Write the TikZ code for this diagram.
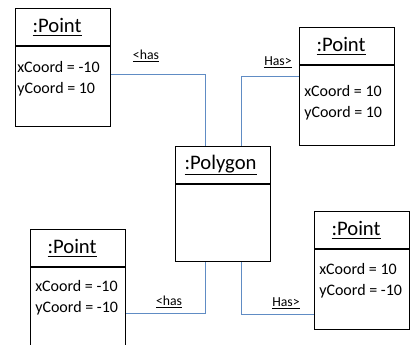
\documentclass[tikz,border=0pt]{standalone}
\usepackage{fontspec}
\setmainfont{Carlito}
\definecolor{linkblue}{RGB}{96,140,196}

\tikzset{
  objhead/.style={draw, line width=0.85pt, minimum width=71.25pt, minimum height=27.75pt, anchor=north west, inner sep=0pt, font=\fontsize{15.5pt}{18pt}\selectfont},
  objbody/.style={draw, line width=0.85pt, minimum width=71.25pt, minimum height=60pt, anchor=north west, inner sep=0pt},
  attr/.style={anchor=north west, inner sep=0pt, align=left, font=\fontsize{12pt}{15.75pt}\selectfont},
  link/.style={draw=linkblue, line width=0.8pt},
  role/.style={inner sep=0pt, font=\fontsize{10.3pt}{12pt}\selectfont},
}

\begin{document}
\begin{tikzpicture}[x=0.75pt,y=0.75pt,yscale=-1,xscale=1]
\useasboundingbox (0,0) rectangle (414,345);
\clip (0,0) rectangle (414,345);

% Polygon
\node[objhead] (polyhead) at (175,146) {\underline{:Polygon}\hspace*{3.75pt}};
\node[objbody, minimum height=57.75pt] (polybody) at (polyhead.south west) {};

% Point top left
\node[objhead] (tlhead) at (15,8) {\underline{:Point}\hspace*{9pt}};
\node[objbody] (tlbody) at (tlhead.south west) {};
\node[attr] (tlattr) at ([xshift=1.5pt,yshift=11.25pt]tlbody.north west) {xCoord = -10\\yCoord = 10};

% Point top right
\node[objhead] (trhead) at (299,27) {\underline{:Point}\hspace*{9pt}};
\node[objbody] (trbody) at (trhead.south west) {};
\node[attr] (trattr) at ([xshift=3.75pt,yshift=15pt]trbody.north west) {xCoord = 10\\yCoord = 10};

% Point bottom left
\node[objhead] (blhead) at (30,229) {\underline{:Point}\hspace*{9pt}};
\node[objbody] (blbody) at (blhead.south west) {};
\node[attr] (blattr) at ([xshift=3.75pt,yshift=9.75pt]blbody.north west) {xCoord = -10\\yCoord = -10};

% Point bottom right
\node[objhead] (brhead) at (314,211) {\underline{:Point}\hspace*{9pt}};
\node[objbody] (brbody) at (brhead.south west) {};
\node[attr] (brattr) at ([xshift=3.75pt,yshift=10.5pt]brbody.north west) {xCoord = 10\\yCoord = -10};

% Links
\draw[link] ([yshift=-9pt]tlbody.east) -| ([xshift=-13.5pt]polyhead.north);
\draw[link] ([xshift=13.5pt]polyhead.north) |- ([yshift=-21.75pt]trbody.west);
\draw[link] ([xshift=-13.5pt]polybody.south) |- ([yshift=4.5pt]blbody.east);
\draw[link] ([xshift=13.5pt]polybody.south) |- ([yshift=18.4pt]brbody.west);

% Role labels
\node[role] (tlrole) at (146,56) {\underline{<has}};
\node[role] (trrole) at (278,62) {\underline{Has>}};
\node[role] (blrole) at (169,302) {\underline{<has}};
\node[role] (brrole) at (286,303) {\underline{Has>}};

\end{tikzpicture}
\end{document}
